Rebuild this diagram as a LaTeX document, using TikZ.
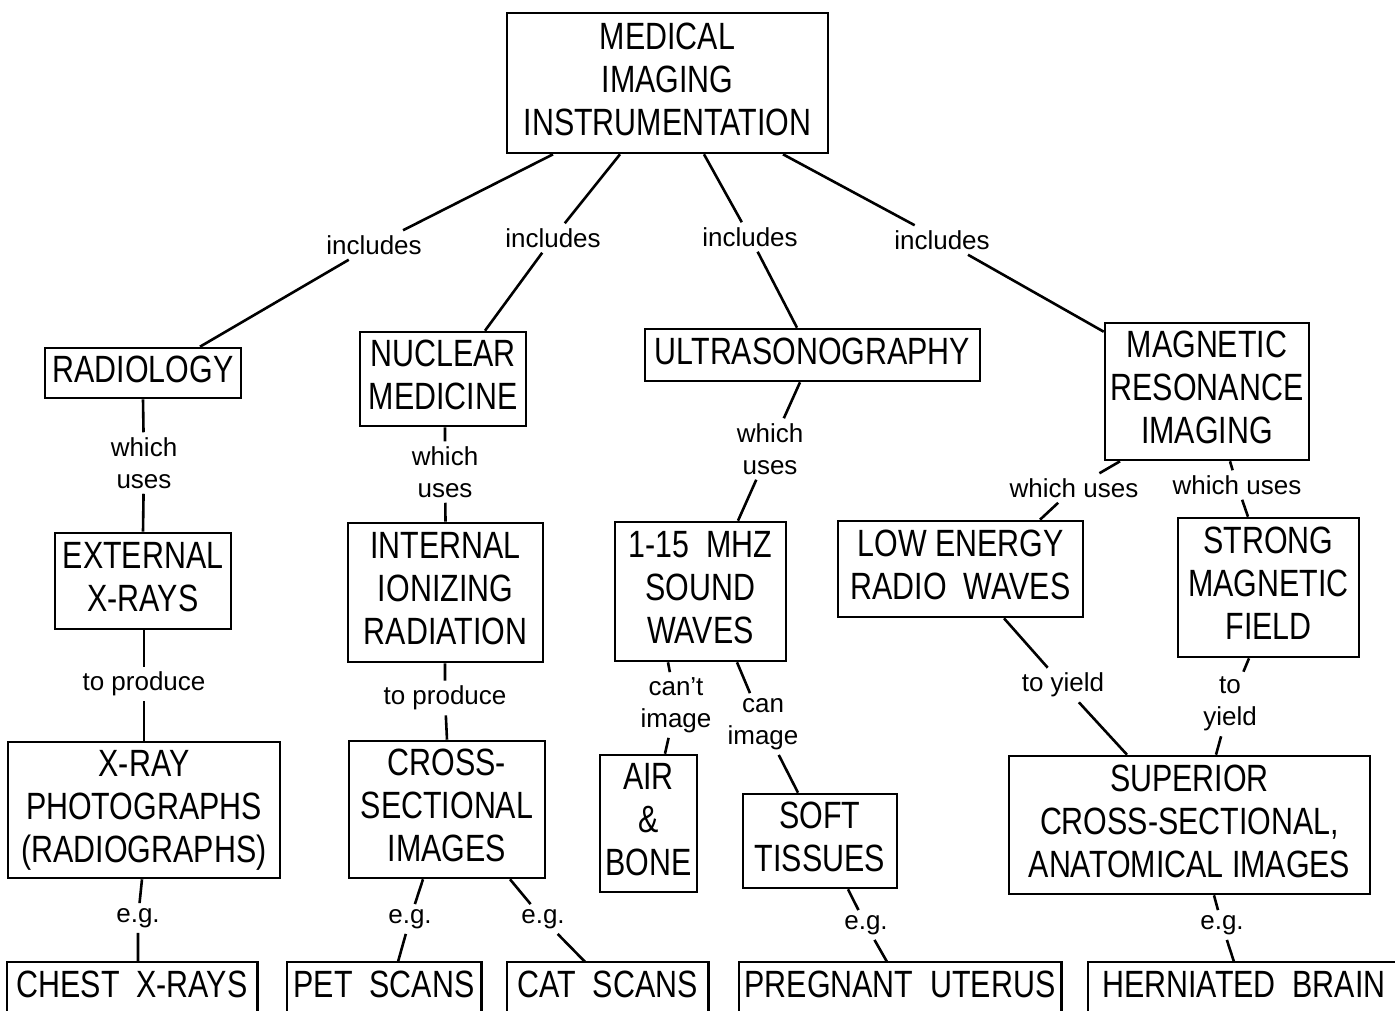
\documentclass[tikz,border=0pt]{standalone}
\usepackage{fontspec}
\setmainfont{Liberation Sans}
\newfontfamily\boxfont{Liberation Sans}[FakeStretch=0.8]

\tikzset{
  boxtext/.style={align=center, inner sep=0pt, font=\boxfont\fontsize{38}{43}\selectfont},
  concept/.style={boxtext, draw, line width=2.6pt,
    execute at end node={\rule[-8pt]{0pt}{8pt}}},
  leaf/.style={boxtext, minimum height=44},
  link/.style={align=center, inner sep=5pt, font=\fontsize{26}{32}\selectfont},
  conn/.style={line width=2.6pt},
}

\begin{document}
\begin{tikzpicture}[x=1pt, y=-1pt]
\clip (0,0) rectangle (1395,1011);
\fill[white] (0,0) rectangle (1395,1011);

% concepts
\node[concept, minimum width=321, minimum height=140] (top) at (667.5,83) {MEDICAL\\IMAGING\\INSTRUMENTATION};
\node[concept, minimum width=196, minimum height=50] (rad) at (143,373) {RADIOLOGY};
\node[concept, minimum width=166, minimum height=94] (nuc) at (443,379) {NUCLEAR\\MEDICINE};
\node[concept, minimum width=335, minimum height=52] (ult) at (812.5,355) {ULTRASONOGRAPHY};
\node[concept, minimum width=204, minimum height=137] (mri) at (1207,391.5) {MAGNETIC\\RESONANCE\\IMAGING};
\node[concept, minimum width=176, minimum height=96] (ext) at (143,581) {EXTERNAL\\X-RAYS};
\node[concept, minimum width=195, minimum height=139] (int) at (445.5,592.5) {INTERNAL\\IONIZING\\RADIATION};
\node[concept, minimum width=171, minimum height=139] (snd) at (700.5,591.5) {1-15 \ MHZ\\SOUND\\WAVES};
\node[concept, minimum width=245, minimum height=96] (low) at (960.5,569) {LOW ENERGY\\RADIO \ WAVES};
\node[concept, minimum width=181, minimum height=139] (str) at (1268.5,587.5) {STRONG\\MAGNETIC\\FIELD};
\node[concept, minimum width=272, minimum height=136] (xph) at (144,810) {X-RAY\\PHOTOGRAPHS\\(RADIOGRAPHS)};
\node[concept, minimum width=196, minimum height=137] (crs) at (447,809.5) {CROSS-\\SECTIONAL\\IMAGES};
\node[concept, minimum width=97, minimum height=137] (air) at (648.5,823.5) {AIR\\\&\\BONE};
\node[concept, minimum width=154, minimum height=94] (sft) at (820,841) {SOFT\\TISSUES};
\node[concept, minimum width=361, minimum height=138] (sup) at (1189.5,825) {SUPERIOR\\CROSS-SECTIONAL,\\ANATOMICAL IMAGES};

% examples along the lower edge
\node[leaf, minimum width=250] (chest) at (132,984) {CHEST \ X-RAYS};
\node[leaf, minimum width=194] (pet) at (384,984) {PET \ SCANS};
\node[leaf, minimum width=201] (cat) at (607.5,984) {CAT \ SCANS};
\node[leaf, minimum width=322] (preg) at (900,984) {PREGNANT \ UTERUS};
\node[leaf, minimum width=312] (hern) at (1244,984) {HERNIATED \ BRAIN};
\foreach \n in {chest,pet,cat,preg,hern}
  \draw[conn] ([yshift=-60pt]\n.south west) |- (\n.north east) -- ([yshift=-60pt]\n.south east);

% linking phrases
\node[link] (l1) at (374,245) {includes};
\node[link] (l2) at (553,238) {includes};
\node[link] (l3) at (750,237) {includes};
\node[link] (l4) at (942,240) {includes};
\node[link] (l5) at (144,463) {which\\uses};
\node[link] (l6) at (445,472) {which\\uses};
\node[link] (l7) at (770,449) {which\\uses};
\node[link] (l8) at (1074,488) {which uses};
\node[link] (l9) at (1237,485) {which uses};
\node[link] (l10) at (144,684) {to produce};
\node[link] (l11) at (445,698) {to produce};
\node[link] (l12) at (676,705) {can't\\image};
\node[link] (l13) at (763,724) {can\\image};
\node[link] (l14) at (1063,685) {to yield};
\node[link] (l15) at (1230,704) {to\\yield};
\node[link] (l16) at (138,918) {e.g.};
\node[link] (l17) at (410,919) {e.g.};
\node[link] (l18) at (543,919) {e.g.};
\node[link] (l19) at (866,925) {e.g.};
\node[link] (l20) at (1222,925) {e.g.};

% connectors
\draw[conn] ([xshift=-114.5pt]top.south) -- (l1) -- ([xshift=57pt]rad.north);
\draw[conn] ([xshift=-47.5pt]top.south) -- (l2) -- ([xshift=42pt]nuc.north);
\draw[conn] ([xshift=36.5pt]top.south) -- (l3) -- ([xshift=-15.5pt]ult.north);
\draw[conn] ([xshift=115.5pt]top.south) -- (l4) -- ([yshift=-10pt]mri.north west);
\draw[conn] (rad.south) -- (l5) -- (ext.north);
\draw[conn] ([xshift=2pt]nuc.south) -- (l6) -- (int.north);
\draw[conn] ([xshift=-12.5pt]ult.south) -- (l7) -- ([xshift=37.5pt]snd.north);
\draw[conn] ([xshift=-87pt]mri.south) -- (l8) -- ([xshift=79.5pt]low.north);
\draw[conn] ([xshift=23pt]mri.south) -- (l9) -- ([xshift=-20.5pt]str.north);
\draw[conn] ([xshift=1pt]ext.south) -- (l10) -- (xph.north);
\draw[conn] ([xshift=-0.5pt]int.south) -- (l11) -- (crs.north);
\draw[conn] ([xshift=-32.5pt]snd.south) -- (l12) -- ([xshift=16.5pt]air.north);
\draw[conn] ([xshift=36.5pt]snd.south) -- (l13) -- ([xshift=-22pt]sft.north);
\draw[conn] ([xshift=43.5pt]low.south) -- (l14) -- ([xshift=-62.5pt]sup.north);
\draw[conn] ([xshift=-19.5pt]str.south) -- (l15) -- ([xshift=26.5pt]sup.north);
\draw[conn] ([xshift=-2pt]xph.south) -- (l16) -- ([xshift=6pt]chest.north);
\draw[conn] ([xshift=-24pt]crs.south) -- (l17) -- ([xshift=14pt]pet.north);
\draw[conn] ([xshift=63pt]crs.south) -- (l18) -- ([xshift=-22.5pt]cat.north);
\draw[conn] ([xshift=28pt]sft.south) -- (l19) -- ([xshift=-13pt]preg.north);
\draw[conn] ([xshift=24.5pt]sup.south) -- (l20) -- ([xshift=-10pt]hern.north);
\end{tikzpicture}
\end{document}
